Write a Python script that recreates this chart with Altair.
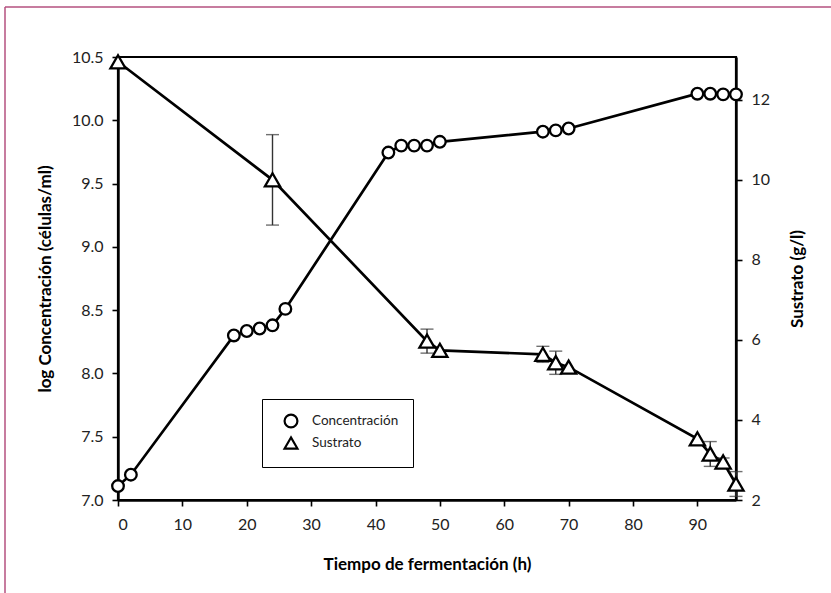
import altair as alt
import pandas as pd

# Concentración celular (log células/ml) frente al tiempo (h)
t_conc = [0, 2, 18, 20, 22, 24, 26, 42, 44, 46, 48, 50, 66, 68, 70, 90, 92, 94, 96]
log_conc = [7.11, 7.20, 8.30, 8.335, 8.355, 8.38, 8.51, 9.745, 9.80, 9.80, 9.80, 9.83,
            9.91, 9.92, 9.935, 10.21, 10.21, 10.205, 10.205]

# Sustrato (g/l) con su desviación
t_sus = [0, 24, 48, 50, 66, 68, 70, 90, 92, 94, 96]
sustrato = [12.95, 10.0, 5.97, 5.74, 5.64, 5.43, 5.32, 3.53, 3.15, 2.95, 2.40]
desv_sus = [0.0, 1.13, 0.30, 0.0, 0.20, 0.29, 0.0, 0.0, 0.31, 0.10, 0.31]

series = ["Concentración", "Sustrato"]

conc_df = pd.DataFrame({"tiempo": t_conc, "conc": log_conc, "serie": series[0]})
sus_df = pd.DataFrame({"tiempo": t_sus, "sustrato": sustrato, "serie": series[1]})
sus_df["lo"] = sus_df["sustrato"] - pd.Series(desv_sus)
sus_df["hi"] = sus_df["sustrato"] + pd.Series(desv_sus)
err_df = sus_df[pd.Series(desv_sus) > 0]

FONT = "Lato"
W, H = 618, 443

x_enc = alt.X("tiempo:Q",
              scale=alt.Scale(domain=[0, 96], nice=False),
              axis=alt.Axis(title="Tiempo de fermentación (h)", labelPadding=10,
                            values=list(range(0, 100, 10)), titlePadding=24))

y_left = alt.Axis(title="log Concentración (células/ml)", orient="left",
                  values=[7.0, 7.5, 8.0, 8.5, 9.0, 9.5, 10.0, 10.5], format=".1f",
                  labelPadding=9, titlePadding=17)
y_right = alt.Axis(title="Sustrato (g/l)", orient="right", values=[2, 4, 6, 8, 10, 12],
                   labelPadding=9, titleAngle=270, titlePadding=37)

yl_scale = alt.Scale(domain=[7.0, 10.5], nice=False, zero=False)
yr_scale = alt.Scale(domain=[2.0, 13.07], nice=False, zero=False)

# Leyenda de formas con las dos series
shape_enc = alt.Shape("serie:N",
                      scale=alt.Scale(domain=series, range=["circle", "triangle-up"]),
                      legend=alt.Legend(title=None, orient="none", legendX=144, legendY=342,
                                        strokeColor="black", padding=14, symbolOffset=7,
                                        labelOffset=13, rowPadding=1, labelFont=FONT,
                                        labelFontSize=13.5, labelColor="#222",
                                        symbolSize=165, symbolStrokeWidth=2.2,
                                        fillColor="white"))

# Serie de concentración (eje izquierdo): fondo blanco + contorno del marcador
conc_base = alt.Chart(conc_df)
yl = alt.Y("conc:Q", scale=yl_scale, axis=y_left)
conc_line = conc_base.mark_line(color="black", strokeWidth=2.7).encode(x=x_enc, y=yl)
conc_bg = conc_base.mark_point(shape="circle", filled=True, color="white", opacity=1,
                               size=135).encode(x=x_enc, y=yl)
conc_pts = conc_base.mark_point(filled=False, color="black", strokeWidth=2.3,
                                opacity=1, size=135).encode(x=x_enc, y=yl, shape=shape_enc)
left = alt.layer(conc_line, conc_bg, conc_pts)

# Serie de sustrato (eje derecho) con barras de error
sus_base = alt.Chart(sus_df)
yr = alt.Y("sustrato:Q", scale=yr_scale, axis=y_right)
sus_line = sus_base.mark_line(color="black", strokeWidth=2.7).encode(x=x_enc, y=yr)
err_rule = alt.Chart(err_df).mark_rule(color="#333", strokeWidth=1.4).encode(
    x=x_enc, y=alt.Y("lo:Q", scale=yr_scale, axis=y_right), y2="hi:Q")
cap_lo = alt.Chart(err_df).mark_tick(color="#333", orient="horizontal", size=13,
                                     thickness=1.4).encode(
    x=x_enc, y=alt.Y("lo:Q", scale=yr_scale, axis=y_right))
cap_hi = alt.Chart(err_df).mark_tick(color="#333", orient="horizontal", size=13,
                                     thickness=1.4).encode(
    x=x_enc, y=alt.Y("hi:Q", scale=yr_scale, axis=y_right))
sus_pts = sus_base.mark_point(shape="triangle-up", fill="white", stroke="black",
                              strokeWidth=2.3, opacity=1, size=230).encode(x=x_enc, y=yr)
right = alt.layer(sus_line, err_rule, cap_lo, cap_hi, sus_pts)

# Marco exterior de la figura
frame_df = pd.DataFrame({"k": [0]})
frame_top = alt.Chart(frame_df).mark_rule(color="#b5507f", strokeWidth=1.5).encode(
    x=alt.value(-113), x2=alt.value(713), y=alt.value(-50))
frame_left = alt.Chart(frame_df).mark_rule(color="#b5507f", strokeWidth=1.5).encode(
    x=alt.value(-113), y=alt.value(-50), y2=alt.value(536))

chart = alt.layer(left, right, frame_top, frame_left).resolve_scale(
    y="independent"
).properties(
    width=W, height=H,
    autosize=alt.AutoSizeParams(type="none"),
    padding={"left": 118, "top": 57, "right": 95, "bottom": 93},
    background="white",
).configure_view(
    stroke="black", strokeWidth=2.2
).configure_axis(
    grid=False, domainColor="black", domainWidth=2.4, tickColor="black", tickWidth=1.6,
    tickSize=6, labelFont=FONT, labelFontSize=16, labelColor="#222", labelPadding=6,
    titleFont=FONT, titleFontSize=17, titleFontWeight="bold", titleColor="black",
)

chart.save("out.html", embed_options={"renderer": "svg", "actions": False})
